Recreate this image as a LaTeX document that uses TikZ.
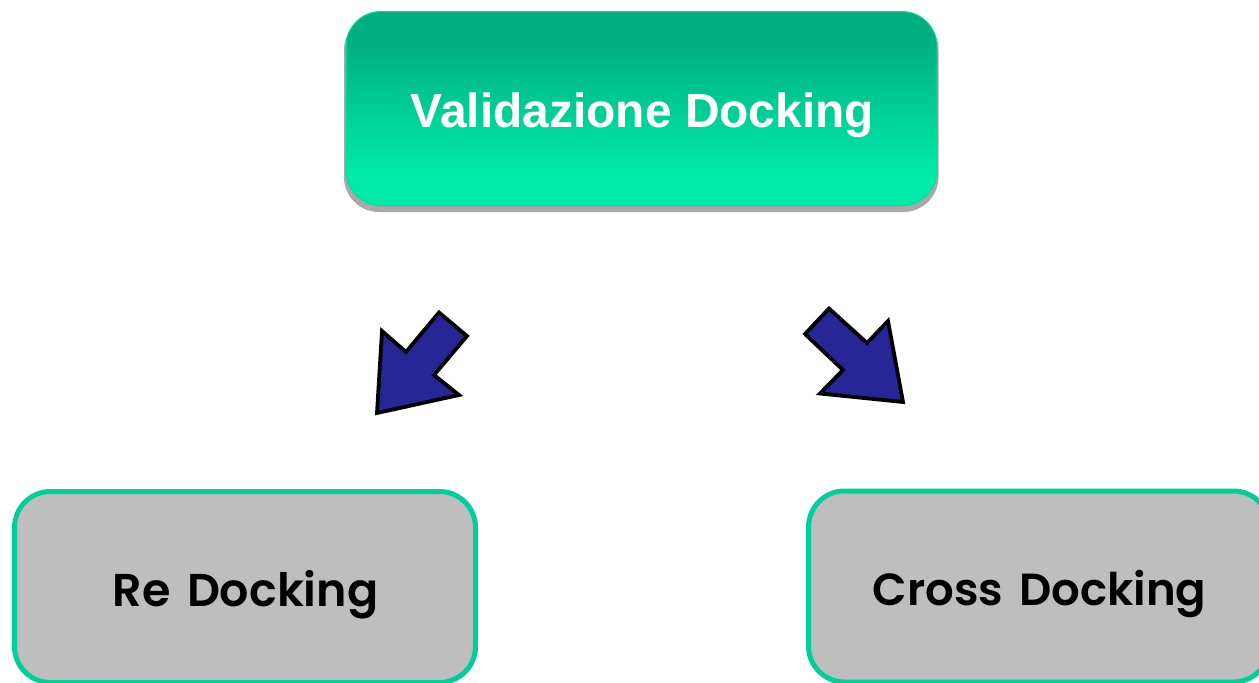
\documentclass[tikz,border=0pt]{standalone}
\usepackage{fontspec}
\setmainfont{Liberation Sans}
\newfontfamily\geofont[WordSpace=1.5]{Poppins SemiBold}
\definecolor{val1}{HTML}{00AE7E}
\definecolor{val2}{HTML}{00EBA8}
\definecolor{edgegreen}{HTML}{00CF9A}
\definecolor{boxgray}{HTML}{BEBEBE}
\definecolor{arrowblue}{HTML}{262696}
\definecolor{shadowgray}{HTML}{A8A8A8}
\pgfdeclareverticalshading{valshade}{100bp}{
  color(0bp)=(val2); color(33bp)=(val2); color(68bp)=(val1); color(100bp)=(val1)}
\tikzset{
  topbox/.style={rounded corners=35pt,draw=val2!80!val1,line width=1pt,shading=valshade,
    minimum width=591pt,minimum height=194pt,inner sep=0pt,text=white},
  lowbox/.style={rounded corners=36pt,draw=edgegreen,line width=5pt,fill=boxgray,
    minimum width=461pt,minimum height=191pt,inner sep=0pt,text=black},
  blockarrow/.style={draw=black,line width=3.8pt,fill=arrowblue,miter limit=10},
}
\begin{document}
\begin{tikzpicture}[x=1pt,y=-1pt]
\useasboundingbox (0,0) rectangle (1259,683);
\clip (0,0) rectangle (1259,683);
\fill[shadowgray,rounded corners=35pt] (344,15) rectangle (938.5,212);
\node[topbox] (val) at (641.5,108.5) {};
\node[text=white,font=\fontsize{47.9}{58}\selectfont\bfseries] (valt) at (642.5,115) {Validazione Docking};
\node[lowbox] (re) at (245,587) {};
\node[font=\geofont\fontsize{46}{54}\selectfont] (ret) at (245.5,595) {Re Docking};
\node[lowbox] (cross) at (1039,586.5) {};
\node[font=\geofont\fontsize{45}{54}\selectfont] (crosst) at (1039.5,594) {Cross Docking};
\draw[blockarrow] (377,413) -- (382,331) -- (406,352) -- (439,312.5) -- (467,336) -- (434,375) -- (459,395) -- cycle;
\draw[blockarrow] (903,402) -- (888,321) -- (867,343) -- (829,308.5) -- (805,334) -- (843,370) -- (820,393.5) -- cycle;
\end{tikzpicture}
\end{document}
